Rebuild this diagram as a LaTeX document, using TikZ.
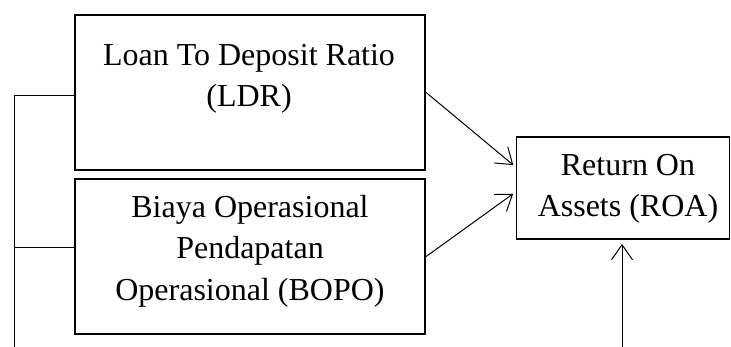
\documentclass[tikz,border=0pt]{standalone}
\usepackage{fontspec}
\setmainfont{Liberation Serif}
\usetikzlibrary{arrows.meta}
\begin{document}
\begin{tikzpicture}[x=1pt,y=-1pt,
  box/.style={draw=black,line width=1.8pt,rectangle,inner sep=0pt},
  lbl/.style={align=center,inner sep=0pt,font=\fontsize{32}{41.5}\selectfont},
  link/.style={draw=black,line width=1pt},
  arr/.style={link,-{Straight Barb[length=15pt,width=21pt,line width=1pt]}}]
\useasboundingbox (0,0) rectangle (731,347);
% boxes
\node[box,minimum width=350.5pt,minimum height=155pt] (ldr) at (250,92.5) {};
\node[box,minimum width=350.5pt,minimum height=155pt] (bopo) at (250,256.5) {};
\node[box,minimum width=213pt,minimum height=102pt] (roa) at (623,188) {};
% texts
\node[lbl] (ldrtext) at (249,79) {Loan To Deposit Ratio\\(LDR)};
\node[lbl] (bopotext) at (250,251) {Biaya Operasional\\Pendapatan\\Operasional (BOPO)};
\node[lbl] (roatext) at (628,189) {Return On\\Assets (ROA)};
% free ends
\coordinate (bl) at (14,347);
\coordinate (bv) at (622,347);
% connectors
\draw[link] ([yshift=-3.5pt]ldr.west) -| (bl);
\draw[link] ([yshift=8.5pt]bopo.west) -- ([yshift=8.5pt]bopo.west -| bl);
\draw[arr,shorten >=3pt] (ldr.east) -- ([yshift=21pt]roa.west);
\draw[arr,shorten >=3pt] (bopo.east) -- ([yshift=-4pt]roa.west);
\draw[arr,shorten >=4pt] (bv) -- (bv |- roa.south);
\end{tikzpicture}
\end{document}
